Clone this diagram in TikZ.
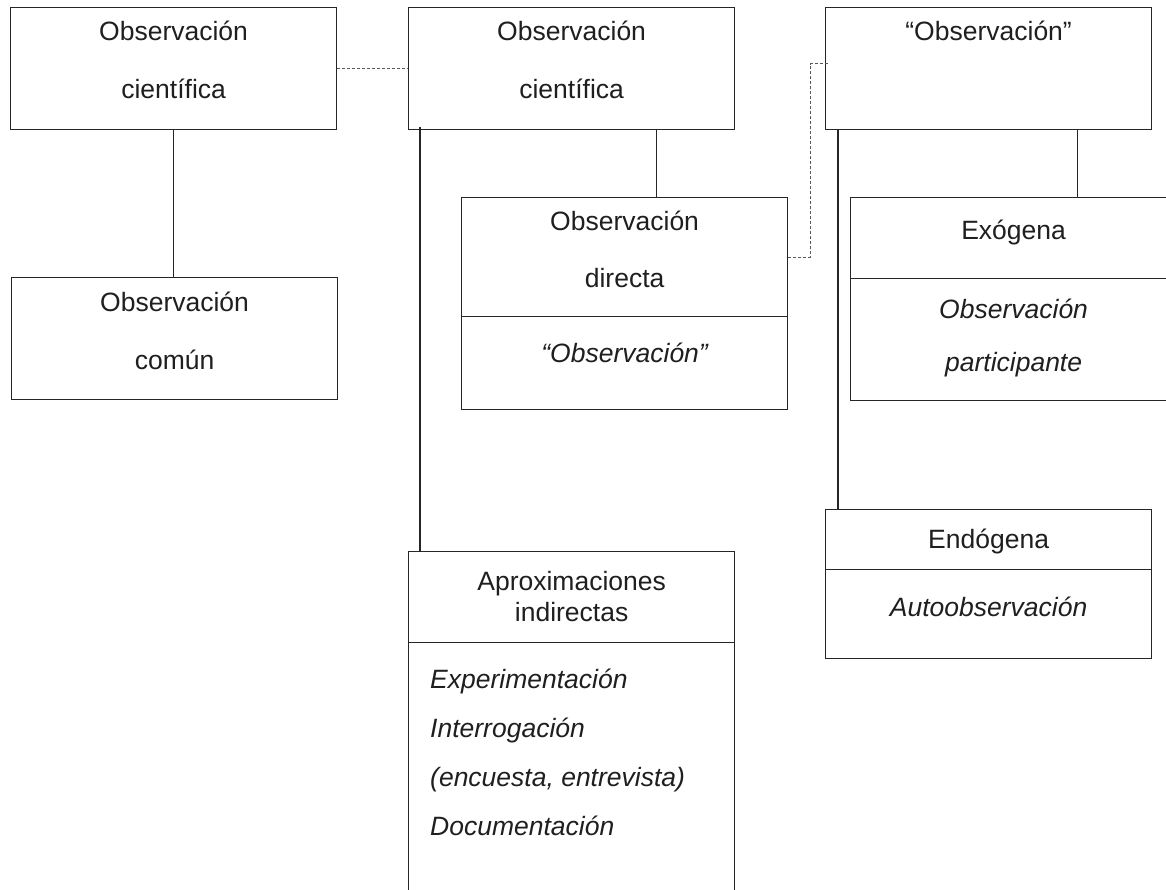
\documentclass[tikz,border=0pt]{standalone}
\usepackage{fontspec}
\setmainfont{Liberation Sans}
\begin{document}
\begin{tikzpicture}[x=1pt,y=-1pt,
  box/.style={draw=black!85, line width=1.2pt, fill=white, inner sep=0pt,
    anchor=north west, minimum width=326pt},
  link/.style={draw=black!85, line width=1.2pt},
  dlink/.style={draw=black!65, line width=1.1pt, dash pattern=on 3pt off 2pt},
  lbl/.style={inner sep=0pt, anchor=base, text=black!88,
    font=\fontsize{26.5}{30}\selectfont},
  ilbl/.style={lbl, font=\fontsize{26.5}{30}\selectfont\itshape},
]
\useasboundingbox (0,0) rectangle (1166,890);
\clip (0,0) rectangle (1166,890);

% boxes
\node[box, minimum height=122pt] (b1) at (10,7) {};
\node[box, minimum height=122pt] (comun) at (11,277) {};
\node[box, minimum height=122pt] (b2) at (408,7) {};
\node[box, minimum height=119pt] (dirA) at (461,197) {};
\node[box, minimum height=93pt]  (dirB) at (461,316) {};
\node[box, minimum height=91pt]  (apA) at (408,551) {};
\node[box, minimum height=270pt] (apB) at (408,642) {};
\node[box, minimum height=122pt] (b4) at (825,7) {};
\node[box, minimum height=81pt]  (exoA) at (850,197) {};
\node[box, minimum height=122pt] (exoB) at (850,278) {};
\node[box, minimum height=60pt]  (endA) at (825,509) {};
\node[box, minimum height=89pt]  (endB) at (825,569) {};

% texts
\node[lbl] (t1a) at (b1.center |- 0,41) {Observación};
\node[lbl] (t1b) at (b1.center |- 0,99) {científica};
\node[lbl] (tca) at (comun.center |- 0,312) {Observación};
\node[lbl] (tcb) at (comun.center |- 0,369) {común};
\node[lbl] (t2a) at (b2.center |- 0,41) {Observación};
\node[lbl] (t2b) at (b2.center |- 0,99) {científica};
\node[lbl] (tda) at (dirA.center |- 0,231) {Observación};
\node[lbl] (tdb) at (dirA.center |- 0,288) {directa};
\node[ilbl] (tdc) at (dirB.center |- 0,362) {“Observación”};
\node[lbl] (t4) at (b4.center |- 0,41) {“Observación”};
\node[lbl] (tea) at (exoA.center |- 0,240) {Exógena};
\node[ilbl] (teb) at (exoB.center |- 0,319) {Observación};
\node[ilbl] (tec) at (exoB.center |- 0,371) {participante};
\node[lbl] (tna) at (endA.center |- 0,548) {Endógena};
\node[ilbl] (tnb) at (endB.center |- 0,616) {Autoobservación};
\node[lbl] (taa) at (apA.center |- 0,590) {Aproximaciones};
\node[lbl] (tab) at (apA.center |- 0,621) {indirectas};
\node[ilbl, anchor=base west] (tl1) at (430,688) {Experimentación};
\node[ilbl, anchor=base west] (tl2) at (430,737) {Interrogación};
\node[ilbl, anchor=base west] (tl3) at (430,786) {(encuesta, entrevista)};
\node[ilbl, anchor=base west] (tl4) at (430,835) {Documentación};

% solid connectors
\draw[link] (b1.south) -- (b1.south |- comun.north);
\draw[link] ([xshift=84.5pt]b2.south) -- ([xshift=84.5pt]b2.south |- dirA.north);
\draw[link] ([xshift=12pt,yshift=3pt]b2.south west) -- ([xshift=12pt]b2.south west |- apA.north);
\draw[link] ([xshift=89pt]b4.south) -- ([xshift=89pt]b4.south |- exoA.north);
\draw[link] ([xshift=13pt]b4.south west) -- ([xshift=13pt]b4.south west |- endA.north);

% dashed connectors
\draw[dlink] (b1.east) -- (b2.west);
\draw[dlink] (dirA.east) -- ++(22,0) |- ([xshift=3pt,yshift=5pt]b4.west);
\end{tikzpicture}
\end{document}
